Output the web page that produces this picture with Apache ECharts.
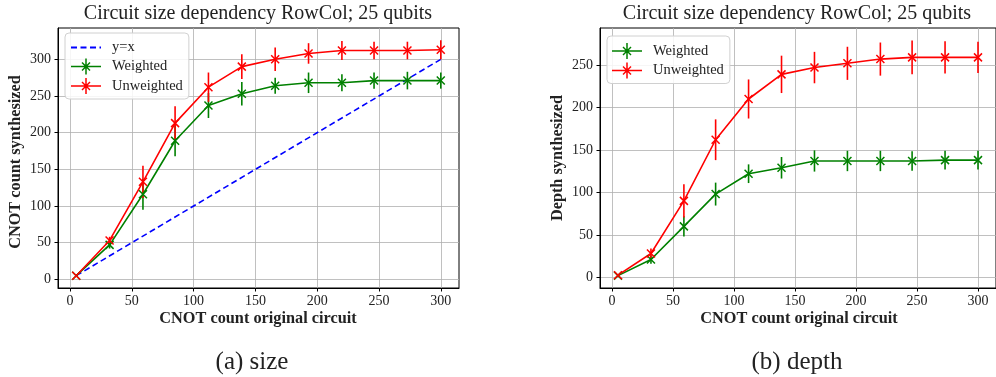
<!DOCTYPE html>
<html>
<head>
<meta charset="utf-8">
<script src="https://cdn.jsdelivr.net/npm/echarts@6/dist/echarts.min.js"></script>
<style>html,body{margin:0;padding:0;background:#fff}#c{width:996px;height:377px}</style>
</head>
<body>
<div id="c"></div>
<script>
// ---- data ----
const xVals = [5, 32, 59, 85, 112, 139, 166, 193, 220, 246, 273, 300];
const sizeWeighted   = [5, 47, 116, 189, 237, 253, 264, 268, 268, 271, 271, 271];
const sizeWeightedErr = [0.7, 5, 21, 21, 17, 16, 11, 14, 11.5, 11, 12, 11];
const sizeUnweighted = [5, 53, 133, 213, 262, 290, 300, 308, 312, 312, 312, 313];
const sizeUnweightedErr = [0.7, 5, 22, 23, 20, 17, 16, 14, 13, 12, 12, 13];
const identityX = [5, 300];
const identityY = [5, 300];
const depthWeighted   = [2, 21, 60, 98, 122, 129, 137, 137, 137, 137, 138, 138];
const depthWeightedErr = [0.5, 5, 12, 13.5, 11, 12.7, 12.5, 12, 12, 11.5, 11, 11];
const depthUnweighted = [2.5, 28, 90, 162, 210, 239, 247, 252, 257, 259, 259, 259];
const depthUnweightedErr = [0.5, 6, 19.5, 24, 23, 22, 18.5, 19.5, 19.5, 20, 19, 18.5];
const tickX = [0, 50, 100, 150, 200, 250, 300];
const tickYSize = [0, 50, 100, 150, 200, 250, 300];
const tickYDepth = [0, 50, 100, 150, 200, 250];

const GREEN = '#008000', RED = '#ff0000', BLUE = '#0000ff';
const SERIF = '"Liberation Serif","Times New Roman",serif';
const XPATH = 'path://M0,0L10,10M10,0L0,10';
const LEG_ICON = 'path://M0,7.25H30V8.75H0Z M14.25,0H15.75V16H14.25Z M10.5,4.5L11.5,3.5L19.5,11.5L18.5,12.5Z M18.5,3.5L19.5,4.5L11.5,12.5L10.5,11.5Z';

const zip = (xs, ys) => xs.map((x, i) => [x, ys[i]]);
const zip3 = (xs, ys, es) => xs.map((x, i) => [x, ys[i], es[i]]);

function errSeries(name, data, color, gi) {
  return {
    type: 'custom', name: name, xAxisIndex: gi, yAxisIndex: gi, z: 3,
    data: data, encode: {x: 0, y: 1}, silent: true,
    itemStyle: {color: color},
    renderItem: function (params, api) {
      const x = api.value(0), y = api.value(1), e = api.value(2);
      const p1 = api.coord([x, y - e]), p2 = api.coord([x, y + e]);
      return {type: 'line', shape: {x1: p1[0], y1: p1[1], x2: p2[0], y2: p2[1]},
              style: {stroke: color, lineWidth: 1.6}};
    }
  };
}
function lineSeries(name, data, color, gi) {
  return {
    type: 'line', name: name, xAxisIndex: gi, yAxisIndex: gi, z: 4,
    data: data, symbol: XPATH, symbolSize: 8, showSymbol: true,
    lineStyle: {color: color, width: 1.6},
    itemStyle: {color: color, borderColor: color, borderWidth: 1.5},
    emphasis: {disabled: true}
  };
}

function xAxisCfg(gi) {
  return {
    type: 'value', gridIndex: gi, min: -9.75, max: 314.75,
    axisLine: {show: true, onZero: false, lineStyle: {color: '#000', width: 1}},
    axisTick: {show: true, length: 3.5, lineStyle: {color: '#000'}, customValues: tickX},
    axisLabel: {customValues: tickX, color: '#222', fontFamily: SERIF, fontSize: 14, margin: 6},
    splitLine: {show: true, lineStyle: {color: '#b0b0b0', width: 0.8}}
  };
}
function yAxisCfg(gi, min, max, ticks) {
  return {
    type: 'value', gridIndex: gi, min: min, max: max,
    axisLine: {show: true, onZero: false, lineStyle: {color: '#000', width: 1}},
    axisTick: {show: true, length: 3.5, lineStyle: {color: '#000'}, customValues: ticks},
    axisLabel: {customValues: ticks, color: '#222', fontFamily: SERIF, fontSize: 14, margin: 7},
    splitLine: {show: true, lineStyle: {color: '#b0b0b0', width: 0.8}}
  };
}

const chart = echarts.init(document.getElementById('c'), null, {renderer: 'canvas'});
const legendCommon = {
  orient: 'vertical', itemWidth: 30, itemHeight: 16, itemGap: 3.5,
  padding: [7, 6, 5, 5], borderColor: '#d0d0d0', borderWidth: 1, borderRadius: 4,
  backgroundColor: 'rgba(255,255,255,0.85)',
  textStyle: {fontFamily: SERIF, fontSize: 14.5, color: '#222', padding: [0, 0, 0, 6]},
  itemStyle: {borderWidth: 0}, selectedMode: false
};

chart.setOption({
  animation: false,
  grid: [
    {left: 58, top: 28, width: 401, height: 260, show: true, borderColor: '#000', borderWidth: 1, containLabel: false},
    {left: 600, top: 28, width: 400, height: 260, show: true, borderColor: '#000', borderWidth: 1, containLabel: false}
  ],
  xAxis: [xAxisCfg(0), xAxisCfg(1)],
  yAxis: [yAxisCfg(0, -11.8, 342.7, tickYSize), yAxisCfg(1, -12.6, 293.6, tickYDepth)],
  legend: [
    Object.assign({}, legendCommon, {left: 65, top: 33,
      data: [{name: 'y=x', itemStyle: {opacity: 0}}, {name: 'Weighted', icon: LEG_ICON}, {name: 'Unweighted', icon: LEG_ICON}]}),
    Object.assign({}, legendCommon, {left: 607, top: 36,
      data: [{name: 'Weighted', icon: LEG_ICON}, {name: 'Unweighted', icon: LEG_ICON}]})
  ],
  series: [
    {type: 'line', name: 'y=x', xAxisIndex: 0, yAxisIndex: 0, z: 2, data: zip(identityX, identityY),
     symbol: 'none', lineStyle: {color: BLUE, width: 1.6, type: [6, 3.5]}, itemStyle: {color: BLUE}},
    lineSeries('Weighted', zip(xVals, sizeWeighted), GREEN, 0),
    errSeries('Weighted', zip3(xVals, sizeWeighted, sizeWeightedErr), GREEN, 0),
    lineSeries('Unweighted', zip(xVals, sizeUnweighted), RED, 0),
    errSeries('Unweighted', zip3(xVals, sizeUnweighted, sizeUnweightedErr), RED, 0),
    lineSeries('Weighted', zip(xVals, depthWeighted), GREEN, 1),
    errSeries('Weighted', zip3(xVals, depthWeighted, depthWeightedErr), GREEN, 1),
    lineSeries('Unweighted', zip(xVals, depthUnweighted), RED, 1),
    errSeries('Unweighted', zip3(xVals, depthUnweighted, depthUnweightedErr), RED, 1)
  ],
  graphic: [
    {type: 'text', x: 258, y: 14, style: {text: 'Circuit size dependency RowCol; 25 qubits', align: 'center', verticalAlign: 'middle', fontFamily: SERIF, fontSize: 20, fill: '#222'}},
    {type: 'text', x: 797, y: 14, style: {text: 'Circuit size dependency RowCol; 25 qubits', align: 'center', verticalAlign: 'middle', fontFamily: SERIF, fontSize: 20, fill: '#222'}},
    {type: 'text', x: 258, y: 319, style: {text: 'CNOT count original circuit', align: 'center', verticalAlign: 'middle', fontFamily: SERIF, fontWeight: 'bold', fontSize: 16.3, fill: '#222'}},
    {type: 'text', x: 799, y: 319, style: {text: 'CNOT count original circuit', align: 'center', verticalAlign: 'middle', fontFamily: SERIF, fontWeight: 'bold', fontSize: 16.3, fill: '#222'}},
    {type: 'text', x: 16, y: 162, rotation: Math.PI / 2, style: {text: 'CNOT count synthesized', align: 'center', verticalAlign: 'middle', fontFamily: SERIF, fontWeight: 'bold', fontSize: 16.3, fill: '#222'}},
    {type: 'text', x: 558, y: 158, rotation: Math.PI / 2, style: {text: 'Depth synthesized', align: 'center', verticalAlign: 'middle', fontFamily: SERIF, fontWeight: 'bold', fontSize: 16.3, fill: '#222'}},
    {type: 'text', x: 252, y: 362, style: {text: '(a) size', align: 'center', verticalAlign: 'middle', fontFamily: SERIF, fontSize: 25, fill: '#222'}},
    {type: 'text', x: 797, y: 362, style: {text: '(b) depth', align: 'center', verticalAlign: 'middle', fontFamily: SERIF, fontSize: 25, fill: '#222'}}
  ]
});
</script>
</body>
</html>
